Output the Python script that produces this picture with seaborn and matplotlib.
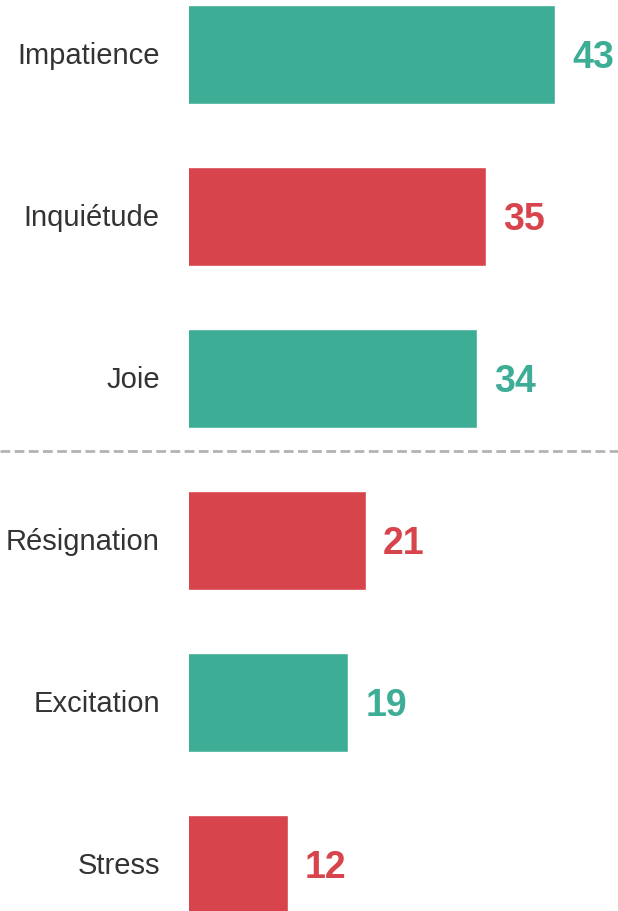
import matplotlib
matplotlib.use("Agg")
import matplotlib.pyplot as plt
import matplotlib.transforms as mtransforms
import seaborn as sns
import pandas as pd

categories = ["Impatience", "Inquiétude", "Joie", "Résignation", "Excitation", "Stress"]
values = [43, 35, 34, 21, 19, 12]
tone = ["positive", "negative", "positive", "negative", "positive", "negative"]

palette = {"positive": "#3dae95", "negative": "#d7444b"}

df = pd.DataFrame({"category": categories, "value": values, "tone": tone})

sns.set_theme(style="white")
plt.rcParams["font.family"] = ["Liberation Sans", "DejaVu Sans"]

W, H = 618, 911
fig = plt.figure(figsize=(W / 100, H / 100), dpi=100)
left_px = 189
ax = fig.add_axes([left_px / W, 0, (W - left_px) / W, 1])

sns.barplot(data=df, x="value", y="category", hue="tone", palette=palette,
            orient="h", width=0.611, dodge=False, legend=False, ax=ax,
            saturation=1)

px_per_unit = 8.61
x0 = 4.3 / px_per_unit
ax.set_xlim(x0, x0 + (W - left_px) / px_per_unit)
row = 162.0
ax.set_ylim((H - 54.5) / row, -54.5 / row)

for i, (v, t) in enumerate(zip(values, tone)):
    ax.annotate(str(v), xy=(v, i), xytext=(17, -3), textcoords="offset pixels",
                ha="left", va="center", fontsize=27, fontweight="bold",
                color=palette[t], clip_on=False, annotation_clip=False)

sep = ax.axhline((451 - 54.5) / row, color="#b3b3b3", lw=2, ls=(0, (3.5, 1.6)),
                 clip_on=False)
sep.set_xdata([-left_px / (W - left_px) * 1.0, 1])
sep.set_transform(ax.get_yaxis_transform())

ax.set_xlabel("")
ax.set_ylabel("")
ax.set_xticks([])
ax.tick_params(axis="y", length=0, pad=21, labelsize=21, labelcolor="#333333")
shift = mtransforms.ScaledTranslation(0, 1.5 / 100, fig.dpi_scale_trans)
for lab in ax.get_yticklabels():
    lab.set_transform(lab.get_transform() + shift)
for s in ax.spines.values():
    s.set_visible(False)

fig.savefig("out.png", dpi=100)
